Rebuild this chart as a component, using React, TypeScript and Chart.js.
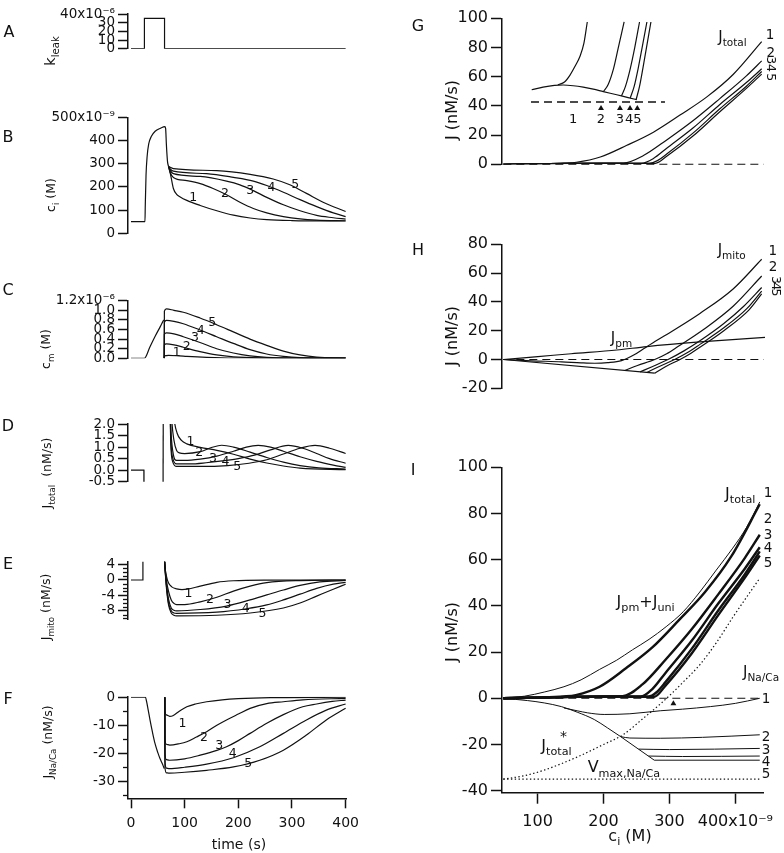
import React, { useEffect, useRef } from 'react';
import { Chart, registerables } from 'chart.js';

Chart.register(...registerables);

type Pt = [number, number];
type Lbl = [number, number, string];

const INK = '#111111';
const FONT = '"DejaVu Sans", Verdana, sans-serif';

// ---------- tick values and labels ----------
const L_XTICKS = [0, 100, 200, 300, 400];
const R_XTICKS = [100, 200, 300, 400];
const A_YT = [0, 10, 20, 30, 40];
const B_YT = [0, 100, 200, 300, 400, 500];
const C_YT = [0, 0.2, 0.4, 0.6, 0.8, 1.0, 1.2];
const D_YT = [-0.5, 0, 0.5, 1, 1.5, 2];
const E_YT = [-8, -4, 0, 4];
const F_YT = [-30, -20, -10, 0];
const G_YT = [0, 20, 40, 60, 80, 100];
const H_YT = [-20, 0, 20, 40, 60, 80];
const I_YT = [-40, -20, 0, 20, 40, 60, 80, 100];
const A_TOP = '40x10⁻⁶';
const B_TOP = '500x10⁻⁹';
const C_TOP = '1.2x10⁻⁶';
const I_XLAST = '400x10⁻⁹';

// ---------- Left column: time courses (x = time in s) ----------
const A_kleak: Pt[] = [[0, 0], [25, 0], [25, 35], [62.5, 35], [62.5, 0], [400, 0]];

const B_rise: Pt[] = [[0, 50], [26, 50], [26.6, 120], [28, 250], [30, 330], [33, 385], [38, 418], [45, 440], [55, 453], [63, 460], [64.5, 452], [66, 380], [68, 310], [70, 288]];
const B1: Pt[] = [[70, 288], [74, 250], [79, 193], [85, 168], [91, 158], [104, 142], [129, 120], [160, 97], [191, 78], [222, 66], [253, 59], [300, 55], [400, 53]];
const B2: Pt[] = [[70, 288], [73, 262], [79, 241], [104, 227], [129, 214], [153, 193], [178, 166], [203, 134], [228, 107], [253, 88], [284, 72], [315, 62], [346, 57], [400, 54]];
const B3: Pt[] = [[70, 288], [74, 268], [79, 257], [129, 245], [178, 225], [203, 209], [228, 184], [253, 155], [284, 123], [315, 97], [346, 77], [377, 67], [400, 61]];
const B4: Pt[] = [[70, 288], [74, 275], [79, 268], [141, 257], [191, 241], [228, 225], [253, 206], [284, 177], [315, 145], [346, 115], [377, 88], [400, 72]];
const B5: Pt[] = [[70, 288], [79, 279], [160, 270], [222, 254], [265, 234], [296, 209], [327, 172], [358, 134], [400, 94]];
const B_nums: Lbl[] = [[116, 155, '1'], [175, 171, '2'], [222, 184, '3'], [262, 197, '4'], [306, 208, '5']];

const C_rise: Pt[] = [[0, 0], [25, 0], [35, 0.23], [45, 0.46], [55, 0.67], [60, 0.78], [61, 0.8]];
const C1: Pt[] = [[62, 0], [62.2, 0.05], [70, 0.06], [90, 0.05], [104, 0.04], [141, 0.02], [190, 0.005], [400, 0]];
const C2: Pt[] = [[62, 0], [62.2, 0.28], [66, 0.3], [80, 0.28], [97.5, 0.23], [128.6, 0.14], [159.6, 0.07], [190.7, 0.03], [240, 0.01], [400, 0.001]];
const C3: Pt[] = [[62, 0], [62.2, 0.5], [66, 0.53], [80, 0.51], [97.5, 0.45], [128.6, 0.33], [159.6, 0.2], [190.7, 0.11], [221.7, 0.05], [252.8, 0.02], [320, 0.005], [400, 0.002]];
const C4: Pt[] = [[62, 0], [62.2, 0.75], [66, 0.79], [80, 0.77], [97.5, 0.72], [128.6, 0.59], [159.6, 0.45], [190.7, 0.31], [221.7, 0.18], [252.8, 0.09], [284, 0.04], [315, 0.015], [400, 0.003]];
const C5: Pt[] = [[62, 0], [62.2, 0.98], [66, 1.03], [80, 1.0], [97.5, 0.96], [128.6, 0.84], [159.6, 0.7], [190.7, 0.55], [221.7, 0.4], [252.8, 0.27], [284, 0.15], [315, 0.07], [346, 0.025], [400, 0.005]];
const C_nums: Lbl[] = [[85, 0.12, '1'], [104, 0.25, '2'], [119, 0.43, '3'], [130, 0.58, '4'], [151.5, 0.74, '5']];

const D_pre: Pt[] = [[0, 0], [24, 0], [24.2, -3]];
const D_spike: Pt[] = [[59.5, -3], [60.5, 6]];
const D1: Pt[] = [[70, 6], [80, 2.3], [86, 1.6], [94, 1.29], [104, 1.14], [129, 0.99], [160, 0.86], [191, 0.69], [222, 0.48], [253, 0.31], [284, 0.18], [315, 0.09], [400, 0.02]];
const D2: Pt[] = [[70, 6], [76, 2.2], [80, 1.3], [85, 0.85], [90, 0.75], [100, 0.72], [129, 0.8], [150, 0.98], [169, 1.08], [191, 1.0], [222, 0.78], [253, 0.55], [284, 0.35], [315, 0.2], [350, 0.1], [400, 0.05]];
const D3: Pt[] = [[70, 6], [74, 2], [78, 0.8], [85, 0.42], [100, 0.42], [129, 0.48], [160, 0.61], [191, 0.82], [215, 1.0], [237, 1.07], [260, 1.0], [284, 0.82], [315, 0.58], [346, 0.38], [377, 0.22], [400, 0.12]];
const D4: Pt[] = [[70, 6], [74, 1.5], [78, 0.5], [85, 0.27], [110, 0.27], [140, 0.32], [170, 0.4], [200, 0.5], [230, 0.65], [260, 0.88], [293, 1.07], [320, 0.95], [346, 0.72], [370, 0.5], [400, 0.3]];
const D5: Pt[] = [[70, 6], [74, 1.2], [78, 0.35], [85, 0.16], [130, 0.16], [180, 0.2], [220, 0.3], [253, 0.45], [284, 0.7], [315, 0.95], [343, 1.07], [370, 0.95], [400, 0.72]];
const D_nums: Lbl[] = [[111, 1.25, '1'], [127, 0.74, '2'], [153, 0.48, '3'], [176, 0.35, '4'], [198, 0.14, '5']];

const E_pre: Pt[] = [[0, 0], [22, 0], [22.2, 8]];
const E1: Pt[] = [[61.5, 8], [63, 4], [66, 1], [70, -0.8], [76, -1.8], [85, -2.3], [95, -2.5], [105, -2.4], [129, -1.6], [160, -0.6], [191, -0.2], [253, -0.03], [400, 0]];
const E2: Pt[] = [[61.5, 8], [63, 4], [66, 0], [70, -3], [75, -5.2], [80, -6.1], [85, -6.4], [100, -6.4], [129, -5.7], [160, -4.5], [191, -2.9], [222, -1.6], [253, -0.7], [315, -0.15], [400, 0]];
const E3: Pt[] = [[61.5, 8], [63, 4], [66, -1], [70, -5], [75, -7.3], [80, -7.9], [85, -8.05], [129, -7.7], [178, -6.8], [222, -5.2], [253, -3.9], [284, -2.6], [315, -1.4], [352, -0.5], [400, -0.1]];
const E4: Pt[] = [[61.5, 8], [63, 4], [66, -1.5], [70, -6], [75, -8], [80, -8.6], [85, -8.7], [160, -8.4], [215, -7.5], [253, -6.5], [284, -5.2], [315, -3.7], [346, -2.2], [377, -1.1], [400, -0.6]];
const E5: Pt[] = [[61.5, 8], [63, 4], [66, -2], [70, -6.5], [75, -8.6], [80, -9.2], [85, -9.35], [160, -9.2], [222, -8.6], [284, -7.3], [315, -6], [346, -4.2], [377, -2.4], [400, -1.1]];
const E_nums: Lbl[] = [[107, -3.7, '1'], [147, -5.2, '2'], [180, -6.5, '3'], [214, -7.5, '4'], [245, -8.7, '5']];

const F_pre: Pt[] = [[0, 0], [27, 0], [29, -1.5], [32, -4.5], [35.4, -8.1], [40, -12.5], [44.7, -16.5], [50, -19.8], [54, -21.9], [59, -24], [62, -25.5]];
const F1: Pt[] = [[63, 0], [63.3, -5], [66, -6.3], [72, -6.8], [78, -6.6], [90, -5], [104, -3.4], [120, -2.4], [141, -1.6], [170, -0.9], [200, -0.5], [260, -0.15], [400, 0]];
const F2: Pt[] = [[63, 0], [63.3, -15], [66, -16.8], [72, -17.1], [90, -16.6], [104, -15.9], [122, -14.2], [141, -12.3], [160, -10], [178, -8.1], [200, -6], [222, -3.95], [253, -2.3], [284, -1.6], [320, -0.9], [400, -0.4]];
const F3: Pt[] = [[63, 0], [63.3, -20], [66, -22.3], [72, -22.5], [100, -22], [129, -20.7], [160, -19], [178, -17.7], [200, -15.5], [222, -12.9], [253, -9.3], [284, -6.2], [320, -3.4], [346, -2.4], [375, -1.5], [400, -1]];
const F4: Pt[] = [[63, 0], [63.3, -23], [66, -25.3], [72, -25.5], [100, -25], [141, -23.9], [191, -21.6], [240, -17.7], [284, -12.9], [327, -8.1], [364, -4.6], [400, -2.4]];
const F5: Pt[] = [[63, 0], [63.3, -25], [66, -27], [72, -27.1], [100, -26.8], [141, -26.1], [191, -24.9], [240, -22.5], [284, -18.9], [327, -13.5], [364, -8.1], [400, -3.9]];
const F_nums: Lbl[] = [[96, -9.3, '1'], [136, -14.3, '2'], [164.5, -17.5, '3'], [189.5, -20.3, '4'], [218.6, -23.7, '5']];

// ---------- Right column: fluxes vs c_i (x = c_i in nM) ----------
const ZERO: Pt[] = [[48, 0], [440, 0]];
const G1: Pt[] = [[48, 0], [100, 0.3], [140, 0.8], [158, 1.4], [194, 5], [234, 13], [274, 22], [314, 33.7], [354, 46], [394, 61.5], [437, 84]];
const G2: Pt[] = [[48, 0], [100, 0.3], [150, 0.6], [200, 0.8], [229, 0.9], [259, 6], [294, 16.7], [334, 30], [374, 45], [414, 60.6], [437, 70.8]];
const G3: Pt[] = [[48, 0], [100, 0.3], [150, 0.6], [200, 0.7], [240, 0.65], [256, 0.7], [274, 4], [294, 11], [334, 25], [374, 41], [414, 56], [437, 65.4]];
const G4: Pt[] = [[48, 0], [100, 0.3], [150, 0.6], [200, 0.7], [250, 0.65], [268, 0.7], [280, 2.5], [294, 7], [334, 21.5], [374, 38], [414, 53.5], [437, 63.6]];
const G5: Pt[] = [[48, 0], [100, 0.3], [150, 0.6], [200, 0.7], [250, 0.65], [277, 0.7], [294, 5.5], [334, 19.5], [374, 36], [414, 52], [437, 61.8]];
const G_nums: Lbl[] = [[449.5, 88.3, '1'], [450.6, 75.8, '2']];
const G_numsRot: Lbl[] = [[450.6, 71.3, '3'], [450.6, 65.9, '4'], [450.6, 59.7, '5']];

// inset of G (own units: x ~ c_i zoomed, y ~ J zoomed)
const IN_base: Pt[] = [[101, 1.57], [118, 1.9], [135, 2.12], [148, 2.17], [163, 2.08], [178, 1.9], [193, 1.65], [208, 1.33], [228, 0.93], [245, 0.57], [258, 0.3]];
const IN_1: Pt[] = [[140, 2.2], [150, 2.55], [158, 3.4], [166, 4.6], [173, 5.8], [179, 7.5], [184, 10.2]];
const IN_2: Pt[] = [[208, 1.33], [215, 2.2], [223, 4.2], [230, 6.8], [239, 10.2]];
const IN_3: Pt[] = [[235, 0.77], [241, 2], [248, 4.2], [255, 7], [262, 10.2]];
const IN_4: Pt[] = [[248, 0.5], [254, 2], [260, 4.3], [266, 7], [273, 10.2]];
const IN_5: Pt[] = [[257, 0.33], [262, 2], [267, 4.3], [272.5, 7], [279, 10.2]];
const IN_dash: Pt[] = [[100, 0], [300, 0]];
const IN_arrows: Pt[] = [[204.5, -0.8], [232.8, -0.8], [247.8, -0.8], [258.7, -0.8]];
const IN_nums: Lbl[] = [[163, -2.2, '1'], [204.5, -2.2, '2'], [232.8, -2.2, '3'], [246.5, -2.2, '4'], [258.7, -2.2, '5']];

const H_pm: Pt[] = [[48, 0], [100, 2], [150, 4], [219, 6.6], [264, 9], [344, 12.2], [442, 15.3]];
const H_env: Pt[] = [[48, 0], [276, -9.5]];
const H1: Pt[] = [[48, 0], [90, -0.9], [136, -1.6], [165, -2.3], [186, -2.6], [205, -2.2], [226, -0.8], [245, 3.3], [261, 8], [280, 13.5], [301.5, 19.5], [344, 32], [394, 49], [437, 69.6]];
const H2: Pt[] = [[231, -7.6], [250, -4.2], [276, 0], [294, 4], [311, 9], [350, 21], [394, 37], [437, 58]];
const H3: Pt[] = [[254, -8.6], [272, -5], [296, 0], [320, 6], [344, 13], [380, 25], [410, 37], [437, 50]];
const H4: Pt[] = [[264, -9], [282, -5], [306, 0], [328, 5.5], [344, 10.5], [380, 22], [415, 35.5], [437, 47.5]];
const H5: Pt[] = [[276, -9.5], [292, -5], [314, 0], [330, 4.2], [344, 8.5], [380, 20], [418, 34.5], [437, 45.5]];
const H_nums: Lbl[] = [[453.6, 75.1, '1'], [454, 64.2, '2']];
const H_numsRot: Lbl[] = [[457, 55.2, '3'], [457, 50.8, '4'], [457, 46.5, '5']];

const I_pu: Pt[] = [[48, 0], [80, 0.9], [110, 2.7], [140, 5], [166, 8], [194, 12.5], [220, 16.5], [244, 21], [269, 25.5], [295, 31], [321, 37.5], [346, 46], [371, 55.5], [396, 65], [417, 74], [437, 85]];
const I_star: Pt[] = [[48, -35], [80, -33.5], [111, -31], [161, -25.3], [200, -20], [229, -15.9], [261, -8.5], [286, -2.5], [305, 2.5], [319, 6.5], [346, 14.5], [371, 24], [396, 35], [437, 52]];
const I_vmax: Pt[] = [[48, -35], [440, -35]];
const NA_env: Pt[] = [[48, 0], [85, -1], [110, -2], [136, -3.6], [160, -6], [186, -9.2], [206, -12.8], [226, -16.6], [253, -22], [268, -25], [277, -26.8]];
const NA1: Pt[] = [[140, -4.2], [160, -5.4], [176, -6.3], [201, -7], [240, -6.7], [286, -5.4], [320, -4.7], [362, -3.6], [400, -2.2], [437, 0]];
const NA2: Pt[] = [[226, -16.6], [240, -17.2], [286, -17.3], [350, -16.9], [437, -15.8]];
const NA3: Pt[] = [[253, -22], [300, -22.2], [437, -21.7]];
const NA4: Pt[] = [[268, -25], [320, -25.2], [437, -25]];
const NA5: Pt[] = [[277, -26.8], [437, -26.8]];
const I_arrow: Pt[] = [[306, -2.3]];
const I_nums: Lbl[] = [[449.5, 88.7, '1'], [449.5, 77.2, '2'], [449.5, 70.3, '3'], [449.5, 64.9, '4'], [449.5, 58.4, '5']];
const I_naNums: Lbl[] = [[446.5, -0.7, '1'], [446.5, -16.9, '2'], [446.5, -22.7, '3'], [446.5, -27.9, '4'], [446.5, -33.2, '5']];

// ---------- helpers ----------
type TextItem = { x: number; y: number; t: string; s: number; a?: 'l' | 'c' | 'r'; r?: number; i?: boolean };

function parseRich(s: string): [string, number][] {
  const out: [string, number][] = [];
  let buf = '';
  let i = 0;
  while (i < s.length) {
    const c = s[i];
    if ((c === '_' || c === '^') && s[i + 1] === '{') {
      if (buf) { out.push([buf, 0]); buf = ''; }
      const j = s.indexOf('}', i);
      out.push([s.slice(i + 2, j), c === '_' ? 1 : 2]);
      i = j + 1;
    } else { buf += c; i++; }
  }
  if (buf) out.push([buf, 0]);
  return out;
}

function drawRich(ctx: CanvasRenderingContext2D, s: string, x: number, y: number, size: number, align: string, rot: number) {
  ctx.save();
  ctx.translate(x, y);
  if (rot) ctx.rotate((rot * Math.PI) / 180);
  ctx.textBaseline = 'middle';
  ctx.textAlign = 'left';
  ctx.fillStyle = INK;
  const parts = parseRich(s).map(([t, m]) => {
    const fs = m ? size * 0.7 : size;
    ctx.font = `${fs}px ${FONT}`;
    return { t, m, fs, w: ctx.measureText(t).width };
  });
  const tot = parts.reduce((a, p) => a + p.w, 0);
  let cx = align === 'c' ? -tot / 2 : align === 'r' ? -tot : 0;
  for (const p of parts) {
    ctx.font = `${p.fs}px ${FONT}`;
    const dy = p.m === 1 ? size * 0.34 : p.m === 2 ? -size * 0.4 : 0;
    ctx.fillText(p.t, cx, dy);
    cx += p.w;
  }
  ctx.restore();
}

const ds = (pts: Pt[], o: Record<string, unknown> = {}) => ({
  data: pts.map(([x, y]) => ({ x, y })),
  borderColor: INK,
  backgroundColor: INK,
  borderWidth: 1.2,
  pointRadius: 0,
  pointHoverRadius: 0,
  fill: false,
  cubicInterpolationMode: 'monotone',
  ...o,
});
const STRAIGHT = { cubicInterpolationMode: 'default', tension: 0 };
const DASHED = { cubicInterpolationMode: 'default', tension: 0, borderDash: [8, 5], borderWidth: 1.1, clip: false };
const DOTTED = { borderDash: [1.4, 2.4], borderWidth: 1.2 };
const ARROWS = { showLine: false, pointRadius: 3.6, pointStyle: 'triangle', borderWidth: 0, backgroundColor: INK };
const THICK = { borderWidth: 2.4 };
const THIN = { borderWidth: 1 };

const nums = (arr: Lbl[], s: number, extra: Partial<TextItem> = {}): TextItem[] =>
  arr.map(([x, y, t]) => ({ x, y, t, s, ...extra }));

type Panel = {
  key: string; col: 'L' | 'R'; t: number; b: number;
  yMin: number; yMax: number; yTicks: number[]; fmt: (v: number) => string;
  sets: any[]; labels: TextItem[]; page: TextItem[]; minor?: number[]; xAxis?: boolean; inset?: boolean;
};

const L_GEOM = { left: 0, width: 400, yW: 128, padR: 53.3, xMin: -5.6, xMax: 402, xTicks: L_XTICKS };
const R_GEOM = { left: 400, width: 384, yW: 102, padR: 19, xMin: 46, xMax: 442, xTicks: R_XTICKS };

function geom(p: Panel) {
  const G = p.col === 'L' ? L_GEOM : R_GEOM;
  const top = Math.max(0, Math.floor(p.t - 18));
  const bottom = p.xAxis ? 853 : Math.ceil(p.b + 14);
  return { ...G, top, height: bottom - top, padT: p.t - top, padB: p.xAxis ? 853 - p.b - 40 : bottom - p.b };
}

function makePanels(): Panel[] {
  const LS = 12.5; // left numbers
  const TS = 12.5; // left axis titles
  const PL = 16; // panel letters
  return [
    {
      key: 'A', col: 'L', t: 14, b: 88.7, yMin: 0, yMax: 40, yTicks: A_YT,
      fmt: (v) => (v === 40 ? A_TOP : String(v)),
      sets: [ds(A_kleak, STRAIGHT)], labels: [],
      page: [{ x: 9, y: 32.5, t: 'A', s: PL }, { x: 51, y: 51, t: 'k_{leak}', s: 14.5, r: -90 }],
    },
    {
      key: 'B', col: 'L', t: 117.3, b: 273.3, yMin: 0, yMax: 500, yTicks: B_YT,
      fmt: (v) => (v === 500 ? B_TOP : String(v)),
      sets: [ds(B_rise), ds(B1), ds(B2), ds(B3), ds(B4), ds(B5)], labels: nums(B_nums, LS),
      page: [{ x: 8, y: 137.5, t: 'B', s: PL }, { x: 52, y: 195, t: 'c_{i} (M)', s: TS, r: -90 }],
    },
    {
      key: 'C', col: 'L', t: 300.7, b: 398.3, yMin: 0, yMax: 1.2, yTicks: C_YT,
      fmt: (v) => (Math.abs(v - 1.2) < 1e-6 ? C_TOP : v.toFixed(1)),
      sets: [ds(C_rise), ds(C1), ds(C2), ds(C3), ds(C4), ds(C5)], labels: nums(C_nums, LS),
      page: [{ x: 8, y: 291, t: 'C', s: PL }, { x: 47, y: 349, t: 'c_{m} (M)', s: TS, r: -90 }],
    },
    {
      key: 'D', col: 'L', t: 424, b: 521.7, yMin: -0.5, yMax: 2, yTicks: D_YT,
      fmt: (v) => v.toFixed(1),
      sets: [ds(D_pre, STRAIGHT), ds(D_spike, STRAIGHT), ds(D1), ds(D2), ds(D3), ds(D4), ds(D5)], labels: nums(D_nums, LS),
      page: [{ x: 8, y: 427, t: 'D', s: PL }, { x: 48, y: 473, t: 'J_{total}  (nM/s)', s: TS, r: -90 }],
    },
    {
      key: 'E', col: 'L', t: 561.7, b: 659.3, yMin: -10.25, yMax: 4.77, yTicks: E_YT,
      fmt: (v) => String(v),
      sets: [ds(E_pre, STRAIGHT), ds(E1), ds(E2), ds(E3), ds(E4), ds(E5)], labels: nums(E_nums, LS),
      minor: [3, 2, 1, -1, -2, -3, -5, -6, -7, -9, -10],
      page: [{ x: 8, y: 565, t: 'E', s: PL }, { x: 47, y: 607, t: 'J_{mito} (nM/s)', s: TS, r: -90 }],
    },
    {
      key: 'F', col: 'L', t: 696.7, b: 798.3, yMin: -36.1, yMax: 0.2, yTicks: F_YT, xAxis: true,
      fmt: (v) => String(v),
      sets: [ds(F_pre), ds(F1), ds(F2), ds(F3), ds(F4), ds(F5)], labels: nums(F_nums, LS),
      minor: [-5, -15, -25, -35],
      page: [
        { x: 8, y: 700, t: 'F', s: PL }, { x: 49, y: 742, t: 'J_{Na/Ca} (nM/s)', s: TS, r: -90 },
        { x: 239, y: 845, t: 'time (s)', s: 14 },
      ],
    },
    {
      key: 'G', col: 'R', t: 18.3, b: 204.3, yMin: 0, yMax: 100, yTicks: G_YT, inset: true,
      fmt: (v) => String(v),
      sets: [
        ds(ZERO, DASHED), ds(G1), ds(G2), ds(G3), ds(G4), ds(G5),
        ds(IN_base, { xAxisID: 'xi', yAxisID: 'yi' }),
        ds(IN_1, { xAxisID: 'xi', yAxisID: 'yi' }), ds(IN_2, { xAxisID: 'xi', yAxisID: 'yi' }),
        ds(IN_3, { xAxisID: 'xi', yAxisID: 'yi' }), ds(IN_4, { xAxisID: 'xi', yAxisID: 'yi' }),
        ds(IN_5, { xAxisID: 'xi', yAxisID: 'yi' }),
        ds(IN_dash, { ...DASHED, borderWidth: 1.6, xAxisID: 'xi', yAxisID: 'yi' }),
        ds(IN_arrows, { ...ARROWS, pointRadius: 3.4, xAxisID: 'xi', yAxisID: 'yi' }),
      ],
      labels: [
        ...nums(G_nums, 13.5), ...nums(G_numsRot, 12.5, { r: 90 }),
        { x: 393, y: 86.6, t: 'J_{total}', s: 15 },
        ...nums(IN_nums, 13, { i: true }),
      ],
      page: [{ x: 418, y: 27, t: 'G', s: PL }, { x: 453, y: 110, t: 'J (nM/s)', s: 16, r: -90 }],
    },
    {
      key: 'H', col: 'R', t: 244.3, b: 428.3, yMin: -20, yMax: 80, yTicks: H_YT,
      fmt: (v) => String(v),
      sets: [ds(ZERO, DASHED), ds(H_pm), ds(H_env, STRAIGHT), ds(H1), ds(H2), ds(H3), ds(H4), ds(H5)],
      labels: [
        ...nums(H_nums, 13.5), ...nums(H_numsRot, 12.5, { r: 90 }),
        { x: 391.9, y: 75.1, t: 'J_{mito}', s: 15 },
        { x: 225.9, y: 14.4, t: 'J_{pm}', s: 15 },
      ],
      page: [{ x: 418, y: 251, t: 'H', s: PL }, { x: 453, y: 336, t: 'J (nM/s)', s: 16, r: -90 }],
    },
    {
      key: 'I', col: 'R', t: 467.3, b: 792.7, yMin: -40.87, yMax: 100, yTicks: I_YT, xAxis: true,
      fmt: (v) => String(v),
      sets: [
        ds(G1, THICK), ds(G2, THICK), ds(G3, THICK), ds(G4, THICK), ds(G5, THICK),
        ds(I_pu, THIN),
        ds(NA_env, THIN), ds(NA1, THIN), ds(NA2, THIN), ds(NA3, THIN), ds(NA4, THIN), ds(NA5, THIN),
        ds(I_star, DOTTED), ds(I_vmax, { ...STRAIGHT, ...DOTTED }),
        ds(ZERO, DASHED),
        ds(I_arrow, { ...ARROWS, pointRadius: 3.4 }),
      ],
      labels: [
        ...nums(I_nums, 13.5), ...nums(I_naNums, 13.5),
        { x: 407.4, y: 88, t: 'J_{total}', s: 16 },
        { x: 263.9, y: 41.5, t: 'J_{pm}+J_{uni}', s: 16 },
        { x: 439, y: 10.8, t: 'J_{Na/Ca}', s: 15 },
        { x: 105.7, y: -20.95, t: 'J_{total}', s: 16, a: 'l' },
        { x: 139.3, y: -16.8, t: '*', s: 14 },
        { x: 175.9, y: -30.3, t: 'V_{max,Na/Ca}', s: 16, a: 'l' },
      ],
      page: [
        { x: 413, y: 471, t: 'I', s: PL }, { x: 453, y: 632, t: 'J (nM/s)', s: 16, r: -90 },
        { x: 630, y: 837, t: 'c_{i} (M)', s: 16 },
      ],
    },
  ];
}

function annot(p: Panel, g: { left: number; top: number }) {
  return {
    id: 'annot' + p.key,
    afterDatasetsDraw(chart: any) {
      const ctx: CanvasRenderingContext2D = chart.ctx;
      if (p.minor) {
        const ys = chart.scales.y;
        const left = chart.chartArea.left;
        ctx.save();
        ctx.strokeStyle = INK;
        ctx.lineWidth = 1.3;
        for (const v of p.minor) {
          const py = Math.round(ys.getPixelForValue(v)) + 0.5;
          ctx.beginPath();
          ctx.moveTo(left - 5, py);
          ctx.lineTo(left, py);
          ctx.stroke();
        }
        ctx.restore();
      }
      for (const it of p.labels) {
        const xs = chart.scales[it.i ? 'xi' : 'x'];
        const ys = chart.scales[it.i ? 'yi' : 'y'];
        drawRich(ctx, it.t, xs.getPixelForValue(it.x), ys.getPixelForValue(it.y), it.s, it.a ?? 'c', it.r ?? 0);
      }
      for (const it of p.page) {
        drawRich(ctx, it.t, it.x - g.left, it.y - g.top, it.s, it.a ?? 'c', it.r ?? 0);
      }
    },
  };
}

function build(canvas: HTMLCanvasElement, p: Panel) {
  const g = geom(p);
  const R = p.col === 'R';
  const scales: any = {
    x: {
      type: 'linear', position: 'bottom', min: g.xMin, max: g.xMax, display: !!p.xAxis,
      afterFit: (s: any) => { s.height = 40; },
      afterBuildTicks: (s: any) => { s.ticks = g.xTicks.map((v) => ({ value: v })); },
      border: { display: true, color: INK, width: 1.5 },
      grid: { drawOnChartArea: false, drawTicks: true, tickLength: R ? 11 : 10, tickWidth: 1.5, tickColor: INK },
      ticks: {
        autoSkip: false, maxRotation: 0, padding: R ? 9 : 7, color: INK,
        font: { family: FONT, size: R ? 16 : 14 },
        callback: (v: any) => (R && Number(v) === 400 ? I_XLAST : String(v)),
      },
    },
    y: {
      type: 'linear', position: 'left', min: p.yMin, max: p.yMax,
      afterFit: (s: any) => { s.width = g.yW; },
      afterBuildTicks: (s: any) => { s.ticks = p.yTicks.map((v) => ({ value: v })); },
      border: { display: true, color: INK, width: 1.5 },
      grid: { drawOnChartArea: false, drawTicks: true, tickLength: R ? 11 : 10, tickWidth: 1.5, tickColor: INK },
      ticks: {
        autoSkip: false, padding: 3, color: INK,
        font: { family: FONT, size: R ? 16 : 13.5 },
        callback: (v: any) => p.fmt(Math.round(Number(v) * 1000) / 1000),
      },
    },
  };
  if (p.inset) {
    scales.xi = { type: 'linear', display: false, min: 56.7, max: 449.3 };
    scales.yi = { type: 'linear', display: false, position: 'left', min: -7.93, max: 10.67 };
  }
  return new Chart(canvas, {
    type: 'line',
    data: { datasets: p.sets },
    options: {
      animation: false,
      responsive: false,
      maintainAspectRatio: false,
      events: [],
      layout: { padding: { top: g.padT, bottom: g.padB, left: 0, right: g.padR } },
      plugins: { legend: { display: false }, tooltip: { enabled: false } },
      scales,
    },
    plugins: [annot(p, g)],
  } as any);
}

export default function App() {
  const refs = useRef<(HTMLCanvasElement | null)[]>([]);
  const specs = makePanels();
  useEffect(() => {
    const panels = makePanels();
    const charts = panels.map((p, i) => build(refs.current[i] as HTMLCanvasElement, p));
    return () => charts.forEach((c) => c.destroy());
  }, []);
  return (
    <div style={{ position: 'absolute', left: 0, top: 0, width: 784, height: 853, background: '#fff', overflow: 'hidden' }}>
      {specs.map((p, i) => {
        const g = geom(p);
        return (
          <canvas
            key={p.key}
            ref={(el) => { refs.current[i] = el; }}
            width={g.width}
            height={g.height}
            style={{ position: 'absolute', left: g.left, top: g.top, width: g.width, height: g.height }}
          />
        );
      })}
    </div>
  );
}
